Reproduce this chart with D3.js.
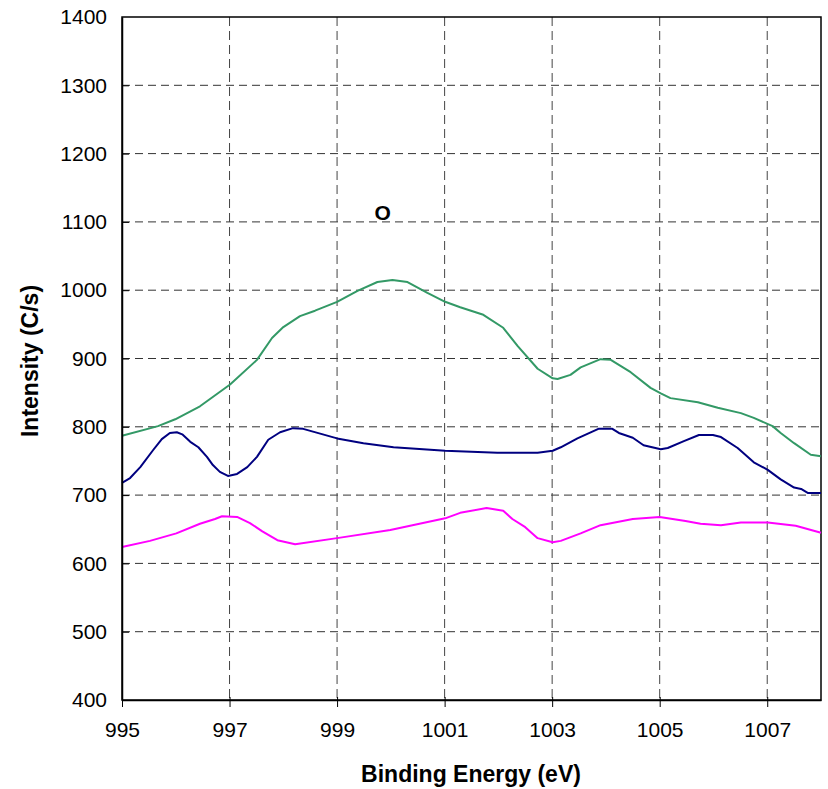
<!DOCTYPE html>
<html><head><meta charset="utf-8">
<script src="https://cdn.jsdelivr.net/npm/d3@7"></script>
<style>body{margin:0;background:#fff}svg{display:block}text{font-family:"Liberation Sans",Arial,sans-serif}</style>
</head><body><svg id="c" width="828" height="789"></svg>
<script>
const xTicks = [995, 997, 999, 1001, 1003, 1005, 1007];
const yTicks = [400, 500, 600, 700, 800, 900, 1000, 1100, 1200, 1300, 1400];

const greenE = [995.00,995.67,995.99,996.45,997.01,997.51,997.79,998.00,998.31,998.59,999.00,999.38,999.75,1000.03,1000.31,1000.68,1001.01,1001.29,1001.72,1002.09,1002.36,1002.73,1003.01,1003.10,1003.34,1003.53,1003.90,1004.09,1004.46,1004.83,1005.02,1005.20,1005.71,1006.08,1006.51,1006.75,1007.10,1007.25,1007.50,1007.81,1008.00];
const greenI = [787,801,811,830,862,898,930,946,962,970,983,999,1012,1015,1012,996,983,975,964,945,918,885,871,870,876,887,899,898,880,857,849,842,836,828,820,813,801,791,776,759,757];

const navyE = [995.00,995.15,995.34,995.58,995.74,995.89,996.02,996.12,996.27,996.42,996.58,996.69,996.82,996.97,997.14,997.33,997.51,997.72,997.94,998.18,998.37,999.00,999.49,1000.05,1001.01,1001.98,1002.73,1003.01,1003.16,1003.47,1003.86,1004.12,1004.24,1004.50,1004.70,1005.02,1005.15,1005.45,1005.73,1005.99,1006.14,1006.45,1006.75,1007.01,1007.25,1007.50,1007.63,1007.76,1008.00];
const navyI = [718,725,741,766,782,791,792,789,778,770,756,744,734,728,731,741,756,781,792,798,797,783,776,770,765,762,762,765,770,783,797,797,791,784,773,767,769,779,788,788,785,769,748,737,723,711,709,703,703];

const pinkE = [995.00,995.52,996.01,996.45,996.73,996.86,997.14,997.38,997.61,997.89,998.22,999.00,999.99,1001.01,1001.29,1001.78,1002.09,1002.26,1002.50,1002.73,1003.01,1003.16,1003.53,1003.90,1004.50,1005.00,1005.48,1005.76,1006.14,1006.51,1007.01,1007.53,1008.00];
const pinkI = [624,633,644,658,665,669,668,659,647,634,628,637,649,666,674,681,677,665,653,637,631,633,644,656,665,668,662,658,656,660,660,655,645];

const series = [
  {e: greenE, v: greenI, color: "#339966"},
  {e: navyE, v: navyI, color: "#000080"},
  {e: pinkE, v: pinkI, color: "#ff00ff"}
];

const svg = d3.select("#c");
const L = 122, R = 821, T = 17, B = 700;
const x = d3.scaleLinear().domain([995, 1008]).range([L, R]);
const y = d3.scaleLinear().domain([400, 1400]).range([B, T]);

// gridlines
const g = svg.append("g");
g.selectAll("line.h").data(yTicks.slice(1, -1)).join("line")
  .attr("x1", L).attr("x2", R).attr("y1", d => y(d)).attr("y2", d => y(d))
  .attr("stroke", "#333").attr("stroke-width", 1).attr("stroke-dasharray", "8,5");
g.selectAll("line.v").data(xTicks.slice(1)).join("line")
  .attr("y1", T).attr("y2", B).attr("x1", d => x(d)).attr("x2", d => x(d))
  .attr("stroke", "#444").attr("stroke-width", 1).attr("stroke-dasharray", "9,5");

// frame
svg.append("rect").attr("x", L).attr("y", T).attr("width", R - L).attr("height", B - T)
  .attr("fill", "none").attr("stroke", "#000").attr("stroke-width", 1.5);

// lines
const line = d3.line().x(d => x(d[0])).y(d => y(d[1]));
series.forEach(s => {
  svg.append("path").datum(s.e.map((e, i) => [e, s.v[i]]))
    .attr("d", line).attr("fill", "none").attr("stroke", s.color)
    .attr("stroke-width", 2).attr("stroke-linejoin", "round");
});

// axes
const xa = svg.append("g").attr("transform", `translate(0,${B})`)
  .call(d3.axisBottom(x).tickValues(xTicks).tickSize(7).tickSizeOuter(0).tickFormat(d3.format("d")).tickPadding(15));
xa.select(".domain").attr("stroke-width", 1.5);
xa.selectAll(".tick line").attr("y1", -3).attr("stroke-width", 1);
xa.selectAll("text").style("font-size", "21px").style("font-family", "Liberation Sans, Arial, sans-serif").attr("fill", "#000");

const ya = svg.append("g").attr("transform", `translate(${L},0)`)
  .call(d3.axisLeft(y).tickValues(yTicks).tickSize(8).tickSizeOuter(0).tickPadding(7).tickFormat(d3.format("d")));
ya.select(".domain").attr("stroke-width", 1.5);
ya.selectAll(".tick line").attr("x2", d => (d === 1400 || d === 400) ? 0 : 7).attr("stroke-width", 1);
ya.selectAll("text").style("font-size", "21px").style("font-family", "Liberation Sans, Arial, sans-serif").attr("fill", "#000");

// titles
svg.append("text").attr("x", 471).attr("y", 782).attr("text-anchor", "middle")
  .style("font-size", "23px").attr("font-weight", "bold").text("Binding Energy (eV)");
svg.append("text").attr("transform", "translate(38,361) rotate(-90)").attr("text-anchor", "middle")
  .style("font-size", "23px").attr("font-weight", "bold").text("Intensity (C/s)");
svg.append("text").attr("x", x(999.85)).attr("y", 220).attr("text-anchor", "middle")
  .style("font-size", "21px").attr("font-weight", "bold").text("O");
</script></body></html>
